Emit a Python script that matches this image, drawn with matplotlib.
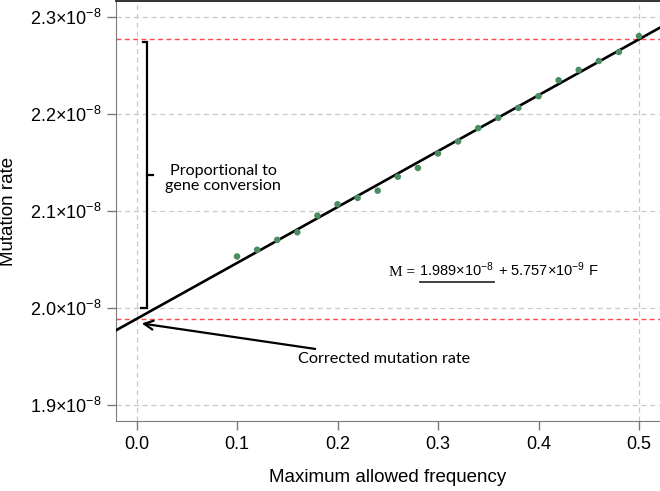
import matplotlib

matplotlib.use("Agg")
import matplotlib.pyplot as plt
from matplotlib.ticker import FuncFormatter

plt.rcParams["font.family"] = ["Liberation Sans", "DejaVu Sans"]
plt.rcParams["mathtext.fontset"] = "custom"
plt.rcParams["mathtext.rm"] = "Liberation Sans"
plt.rcParams["mathtext.it"] = "Liberation Sans:italic"
plt.rcParams["mathtext.bf"] = "Liberation Sans:bold"

# maximum allowed frequency vs estimated mutation rate (units of 1e-8)
freq = [0.10, 0.12, 0.14, 0.16, 0.18, 0.20, 0.22, 0.24, 0.26, 0.28, 0.30,
        0.32, 0.34, 0.36, 0.38, 0.40, 0.42, 0.44, 0.46, 0.48, 0.50]
rate_e8 = [2.0533, 2.0602, 2.0704, 2.0782, 2.0954, 2.1070, 2.1136, 2.1210,
           2.1354, 2.1444, 2.1593, 2.1717, 2.1854, 2.1960, 2.2063, 2.2183,
           2.2347, 2.2453, 2.2545, 2.2638, 2.2802]

# linear fit M = a + b F  (units of 1e-8)
intercept_e8 = 1.989
slope_e8 = 0.5757

xticks = [0.0, 0.1, 0.2, 0.3, 0.4, 0.5]
yticks = [1.9, 2.0, 2.1, 2.2, 2.3]

GRAY = "#7a7a7a"
GRID = "#c8c8c8"
RED = "#ff4a4a"

fig = plt.figure(figsize=(6.6, 4.91), dpi=100)
ax = fig.add_axes([0.1758, 0.1426, 0.8242, 0.855])
ax.set_xlim(-0.0204, 0.5209)
ax.set_ylim(1.8839, 2.3161)

# grid: all y ticks, only the ends on x
for y in yticks:
    ax.axhline(y, color=GRID, lw=0.9, ls=(0, (4, 3)), zorder=0)
for x in (xticks[0], xticks[-1]):
    ax.axvline(x, color=GRID, lw=0.9, ls=(0, (4, 3)), zorder=0)

# corrected rate and rate at F=0.5
ax.axhline(intercept_e8, color=RED, lw=1.0, ls=(0, (3.5, 2.5)), zorder=1)
ax.axhline(intercept_e8 + slope_e8 * xticks[-1], color=RED, lw=1.0,
           ls=(0, (3.5, 2.5)), zorder=1)

# fit line across the whole axis
x0, x1 = ax.get_xlim()
ax.plot([x0, x1], [intercept_e8 + slope_e8 * x0, intercept_e8 + slope_e8 * x1],
        color="black", lw=1.9, zorder=3)

ax.scatter(freq, rate_e8, s=22, color="#4c8c62", edgecolors="none", zorder=4)

# bracket
bx = 0.0101
btop = intercept_e8 + slope_e8 * xticks[-1] - 0.003
bbot = 2.0003
bmid = (btop + bbot) / 2
ax.plot([bx - 0.004, bx, bx, bx - 0.006], [btop, btop, bbot, bbot],
        color="black", lw=1.6, solid_joinstyle="miter", zorder=3)
ax.plot([bx, bx + 0.006], [bmid, bmid], color="black", lw=1.6, zorder=3)
ax.text(0.086, 2.1334, "Proportional to\ngene conversion", family=["Lato", "DejaVu Sans"],
        fontsize=11.6, ha="center", va="center", linespacing=1.12)

ax.annotate("Corrected mutation rate", xy=(0.0052, 1.9843), xytext=(0.161, 1.9476),
            family=["Lato", "DejaVu Sans"], fontsize=11.7, va="center", ha="left",
            arrowprops=dict(arrowstyle="->", color="black", lw=1.6,
                            shrinkA=2, shrinkB=0, mutation_scale=16))

# equation with underlined intercept
t1 = ax.text(0.2515, 2.0305, "M = ", family=["Liberation Serif"], fontsize=11,
             ha="left", va="bottom")
t2 = ax.annotate("1.989×10$^{-8}$", xy=(1, 0), xycoords=t1, fontsize=10.5,
                 ha="left", va="bottom")
t3 = ax.annotate(" + 5.757×10$^{-9}$ F", xy=(1, 0), xycoords=t2, fontsize=10.5,
                 ha="left", va="bottom")
fig.canvas.draw()
bb = t2.get_window_extent()
inv = ax.transAxes.inverted()
(ux0, uy), (ux1, _) = inv.transform([(bb.x0 + 1, bb.y0 - 3), (bb.x1, bb.y0 - 3)])
ax.plot([ux0, ux1], [uy, uy], color="#333333", lw=1.3, transform=ax.transAxes)

# axes styling
ax.set_xticks(xticks)
ax.set_yticks(yticks)
ax.xaxis.set_major_formatter(FuncFormatter(lambda v, p: f"{v:.1f}"))
ax.yaxis.set_major_formatter(FuncFormatter(lambda v, p: f"{v:.1f}×10$^{{-8}}$"))
ax.tick_params(direction="out", length=6.5, width=1, color=GRAY, labelsize=13,
               labelcolor="black", pad=4)
ax.spines["left"].set_color(GRAY)
ax.spines["bottom"].set_color(GRAY)
ax.spines["top"].set_color("#222222")
ax.spines["top"].set_linewidth(1.3)
ax.spines["right"].set_visible(False)

ax.set_xlabel("Maximum allowed frequency", fontsize=13.5, labelpad=12)
ax.set_ylabel("Mutation rate", fontsize=13.5, labelpad=9)

fig.savefig("out.png", dpi=100)
